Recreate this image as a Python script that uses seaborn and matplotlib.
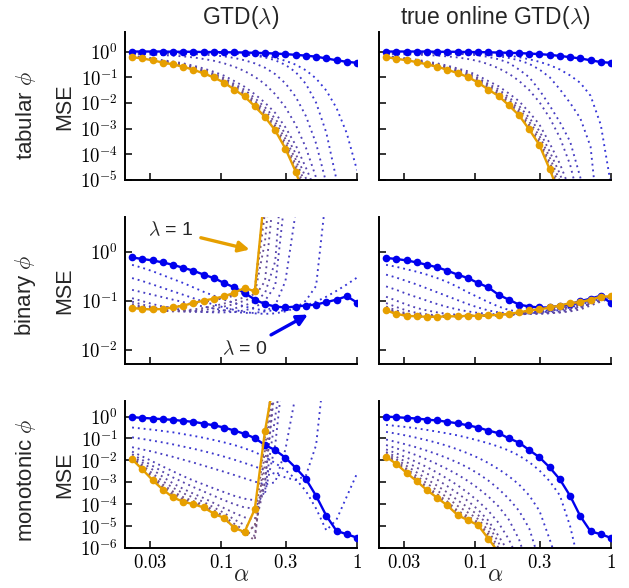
import numpy as np
import seaborn as sns
import matplotlib
matplotlib.use("Agg")
import matplotlib.pyplot as plt
from matplotlib.colors import to_rgb
from matplotlib.ticker import FixedLocator, FuncFormatter, NullLocator

# step sizes (x axis) and trace parameters, one curve per lambda
alpha = [0.0221, 0.02628, 0.03125, 0.03716, 0.04419, 0.05256, 0.0625, 0.07433,
         0.08839, 0.10511, 0.125, 0.14865, 0.17678, 0.21022, 0.25, 0.2973,
         0.35355, 0.42045, 0.5, 0.5946, 0.70711, 0.8409, 1.0]
lambdas = [0, 0.5, 0.75, 0.875, 0.9375, 0.96875, 0.984375, 0.9921875,
           0.99609375, 0.998046875, 0.9990234375, 1.0]

# log10(MSE), one list per lambda (first = lambda 0, last = lambda 1)
tabular_gtd = [
    [0, 0, 0, 0, -0.01, -0.01, -0.01, -0.02, -0.02, -0.03, -0.03, -0.04, -0.05, -0.06, -0.08, -0.1, -0.13, -0.16, -0.2, -0.27, -0.34, -0.4, -0.44],
    [-0.02, -0.02, -0.02, -0.02, -0.02, -0.03, -0.03, -0.04, -0.05, -0.06, -0.07, -0.09, -0.13, -0.18, -0.25, -0.36, -0.51, -0.73, -1.05, -1.52, -2.2, -3.18, -4.62],
    [-0.04, -0.04, -0.04, -0.04, -0.04, -0.04, -0.05, -0.05, -0.05, -0.06, -0.08, -0.11, -0.16, -0.23, -0.34, -0.52, -0.8, -1.26, -1.99, -3.16, -5.0, -7.5, -7.5],
    [-0.07, -0.07, -0.07, -0.08, -0.08, -0.08, -0.1, -0.12, -0.15, -0.19, -0.25, -0.34, -0.46, -0.63, -0.88, -1.24, -1.76, -2.51, -3.58, -5.13, -7.5, -7.5, -7.5],
    [-0.09, -0.1, -0.12, -0.14, -0.16, -0.19, -0.23, -0.29, -0.36, -0.46, -0.59, -0.76, -0.98, -1.27, -1.66, -2.17, -2.85, -3.74, -4.91, -6.46, -7.5, -7.5, -7.5],
    [-0.17, -0.21, -0.27, -0.34, -0.39, -0.46, -0.55, -0.66, -0.79, -0.94, -1.15, -1.37, -1.66, -1.99, -2.39, -2.95, -3.64, -4.52, -5.46, -6.55, -7.5, -7.5, -7.5],
    [-0.19, -0.23, -0.29, -0.37, -0.43, -0.5, -0.6, -0.72, -0.86, -1.03, -1.26, -1.49, -1.81, -2.17, -2.61, -3.21, -3.97, -4.93, -5.95, -7.14, -7.5, -7.5, -7.5],
    [-0.2, -0.24, -0.31, -0.39, -0.45, -0.53, -0.64, -0.77, -0.91, -1.09, -1.33, -1.58, -1.92, -2.3, -2.76, -3.4, -4.2, -5.22, -6.3, -7.5, -7.5, -7.5, -7.5],
    [-0.21, -0.25, -0.32, -0.4, -0.47, -0.55, -0.67, -0.8, -0.95, -1.14, -1.39, -1.65, -2.0, -2.4, -2.89, -3.55, -4.39, -5.45, -6.58, -7.5, -7.5, -7.5, -7.5],
    [-0.21, -0.26, -0.33, -0.42, -0.49, -0.57, -0.69, -0.82, -0.98, -1.17, -1.44, -1.7, -2.07, -2.47, -2.98, -3.67, -4.53, -5.63, -6.79, -7.5, -7.5, -7.5, -7.5],
    [-0.22, -0.27, -0.34, -0.43, -0.5, -0.58, -0.7, -0.84, -1.0, -1.2, -1.47, -1.73, -2.11, -2.52, -3.04, -3.74, -4.62, -5.74, -6.93, -7.5, -7.5, -7.5, -7.5],
    [-0.22, -0.27, -0.34, -0.43, -0.5, -0.59, -0.71, -0.85, -1.01, -1.21, -1.48, -1.75, -2.13, -2.55, -3.07, -3.78, -4.67, -5.8, -7.5, -7.5, -7.5, -7.5, -7.5],
]
tabular_togtd = [
    [0, 0, 0, 0, 0, -0.01, -0.01, -0.01, -0.02, -0.02, -0.03, -0.04, -0.05, -0.06, -0.08, -0.1, -0.13, -0.17, -0.22, -0.27, -0.34, -0.41, -0.44],
    [-0.02, -0.02, -0.02, -0.03, -0.03, -0.03, -0.04, -0.04, -0.05, -0.07, -0.09, -0.12, -0.16, -0.22, -0.3, -0.4, -0.53, -0.7, -0.93, -1.22, -1.72, -2.85, -5.2],
    [-0.04, -0.04, -0.05, -0.05, -0.05, -0.06, -0.06, -0.07, -0.08, -0.1, -0.13, -0.18, -0.25, -0.34, -0.48, -0.7, -1.0, -1.47, -2.0, -2.6, -3.7, -7.5, -7.5],
    [-0.06, -0.06, -0.06, -0.07, -0.07, -0.07, -0.08, -0.09, -0.11, -0.15, -0.21, -0.3, -0.44, -0.7, -1.0, -1.5, -2.1, -2.75, -3.5, -4.9, -7.5, -7.5, -7.5],
    [-0.09, -0.1, -0.11, -0.12, -0.14, -0.16, -0.19, -0.23, -0.29, -0.37, -0.49, -0.65, -0.86, -1.14, -1.5, -1.97, -2.58, -3.35, -4.4, -6.0, -7.5, -7.5, -7.5],
    [-0.17, -0.22, -0.27, -0.32, -0.39, -0.46, -0.55, -0.66, -0.77, -0.94, -1.15, -1.35, -1.63, -1.93, -2.36, -2.84, -3.57, -4.37, -5.38, -6.55, -7.5, -7.5, -7.5],
    [-0.19, -0.24, -0.29, -0.35, -0.43, -0.5, -0.6, -0.71, -0.84, -1.03, -1.26, -1.47, -1.78, -2.11, -2.58, -3.09, -3.89, -4.76, -5.87, -7.14, -7.5, -7.5, -7.5],
    [-0.2, -0.25, -0.31, -0.37, -0.45, -0.53, -0.64, -0.76, -0.89, -1.09, -1.33, -1.56, -1.88, -2.23, -2.73, -3.28, -4.12, -5.04, -6.21, -7.5, -7.5, -7.5, -7.5],
    [-0.21, -0.26, -0.32, -0.39, -0.47, -0.55, -0.67, -0.79, -0.93, -1.14, -1.39, -1.63, -1.96, -2.33, -2.85, -3.42, -4.31, -5.26, -6.49, -7.5, -7.5, -7.5, -7.5],
    [-0.21, -0.27, -0.33, -0.4, -0.49, -0.57, -0.69, -0.81, -0.96, -1.17, -1.44, -1.68, -2.03, -2.41, -2.94, -3.53, -4.44, -5.43, -6.69, -7.5, -7.5, -7.5, -7.5],
    [-0.22, -0.28, -0.34, -0.41, -0.5, -0.58, -0.7, -0.83, -0.98, -1.2, -1.47, -1.71, -2.07, -2.46, -3.0, -3.6, -4.53, -5.54, -6.83, -7.5, -7.5, -7.5, -7.5],
    [-0.22, -0.28, -0.34, -0.41, -0.5, -0.59, -0.71, -0.84, -0.99, -1.21, -1.48, -1.73, -2.09, -2.48, -3.03, -3.64, -4.58, -5.6, -7.5, -7.5, -7.5, -7.5, -7.5],
]
binary_gtd = [
    [-0.12, -0.15, -0.18, -0.22, -0.27, -0.33, -0.39, -0.47, -0.54, -0.64, -0.73, -0.84, -0.98, -1.07, -1.12, -1.14, -1.12, -1.1, -1.08, -1.03, -0.98, -0.91, -1.04],
    [-0.27, -0.33, -0.4, -0.48, -0.56, -0.64, -0.73, -0.82, -0.9, -0.98, -1.05, -1.12, -1.17, -1.2, -1.21, -1.2, -1.16, -1.1, -1.02, -0.92, -0.8, -0.67, -0.53],
    [-0.54, -0.6, -0.67, -0.74, -0.81, -0.88, -0.95, -1.02, -1.08, -1.14, -1.19, -1.23, -1.26, -1.27, -1.26, -1.22, -1.15, -1.0, -0.7, 1.2, 3, 3, 3],
    [-0.78, -0.83, -0.88, -0.93, -0.98, -1.03, -1.08, -1.12, -1.16, -1.2, -1.23, -1.25, -1.25, -1.22, -1.1, -0.6, 0.8, 3, 3, 3, 3, 3, 3],
    [-0.95, -1.01, -1.07, -1.12, -1.16, -1.19, -1.21, -1.23, -1.24, -1.24, -1.23, -1.2, -1.14, -1.0, -0.7, 1.2, 3, 3, 3, 3, 3, 3, 3],
    [-1.02, -1.08, -1.13, -1.17, -1.2, -1.22, -1.23, -1.23, -1.22, -1.2, -1.16, -1.1, -1.02, -0.85, -0.2, 2.5, 3, 3, 3, 3, 3, 3, 3],
    [-1.07, -1.12, -1.17, -1.2, -1.22, -1.22, -1.21, -1.19, -1.16, -1.12, -1.07, -1.0, -0.92, -0.6, 1.5, 3, 3, 3, 3, 3, 3, 3, 3],
    [-1.1, -1.15, -1.19, -1.21, -1.21, -1.2, -1.18, -1.15, -1.11, -1.06, -1.0, -0.93, -0.87, 0.2, 2.5, 3, 3, 3, 3, 3, 3, 3, 3],
    [-1.12, -1.14, -1.15, -1.15, -1.13, -1.1, -1.07, -1.03, -0.99, -0.95, -0.9, -0.84, -0.82, 0.8, 3, 3, 3, 3, 3, 3, 3, 3, 3],
    [-1.14, -1.15, -1.16, -1.15, -1.13, -1.1, -1.06, -1.02, -0.98, -0.93, -0.87, -0.8, -0.8, 1.1, 3, 3, 3, 3, 3, 3, 3, 3, 3],
    [-1.15, -1.16, -1.17, -1.16, -1.14, -1.1, -1.06, -1.01, -0.97, -0.92, -0.86, -0.77, -0.8, 1.2, 3, 3, 3, 3, 3, 3, 3, 3, 3],
    [-1.15, -1.17, -1.18, -1.17, -1.14, -1.1, -1.05, -1.0, -0.96, -0.91, -0.84, -0.74, -0.81, 1.28, 3, 3, 3, 3, 3, 3, 3, 3, 3],
]
binary_togtd = [
    [-0.13, -0.15, -0.18, -0.22, -0.27, -0.32, -0.39, -0.47, -0.54, -0.64, -0.73, -0.88, -0.98, -1.08, -1.12, -1.14, -1.14, -1.1, -1.07, -1.01, -0.96, -0.9, -1.05],
    [-0.27, -0.31, -0.36, -0.41, -0.47, -0.54, -0.62, -0.72, -0.83, -0.93, -1.03, -1.12, -1.19, -1.23, -1.24, -1.22, -1.19, -1.15, -1.1, -1.05, -1.0, -0.93, -0.92],
    [-0.47, -0.53, -0.6, -0.67, -0.75, -0.83, -0.91, -0.99, -1.07, -1.14, -1.2, -1.24, -1.26, -1.27, -1.26, -1.24, -1.21, -1.17, -1.12, -1.07, -1.01, -0.95, -0.93],
    [-0.71, -0.78, -0.86, -0.93, -1.0, -1.07, -1.13, -1.18, -1.22, -1.25, -1.27, -1.28, -1.28, -1.27, -1.26, -1.24, -1.22, -1.19, -1.14, -1.08, -1.02, -0.96, -0.93],
    [-0.92, -1.0, -1.08, -1.15, -1.2, -1.24, -1.27, -1.29, -1.3, -1.3, -1.3, -1.29, -1.28, -1.27, -1.26, -1.25, -1.24, -1.22, -1.18, -1.13, -1.06, -0.99, -0.94],
    [-1.05, -1.13, -1.2, -1.25, -1.28, -1.3, -1.31, -1.31, -1.31, -1.31, -1.3, -1.3, -1.29, -1.28, -1.27, -1.27, -1.26, -1.24, -1.2, -1.15, -1.07, -1.0, -0.94],
    [-1.12, -1.2, -1.26, -1.29, -1.31, -1.32, -1.32, -1.32, -1.32, -1.31, -1.31, -1.3, -1.29, -1.28, -1.27, -1.26, -1.25, -1.24, -1.22, -1.18, -1.1, -1.02, -0.95],
    [-1.15, -1.23, -1.28, -1.3, -1.32, -1.33, -1.33, -1.32, -1.32, -1.31, -1.31, -1.3, -1.28, -1.26, -1.24, -1.22, -1.2, -1.18, -1.16, -1.12, -1.06, -0.98, -0.94],
    [-1.17, -1.25, -1.29, -1.31, -1.32, -1.33, -1.33, -1.32, -1.32, -1.31, -1.31, -1.3, -1.28, -1.26, -1.23, -1.2, -1.18, -1.14, -1.12, -1.09, -1.03, -0.96, -0.93],
    [-1.18, -1.26, -1.3, -1.32, -1.33, -1.33, -1.33, -1.32, -1.32, -1.31, -1.3, -1.29, -1.27, -1.25, -1.21, -1.19, -1.16, -1.12, -1.08, -1.06, -1.0, -0.94, -0.92],
    [-1.19, -1.27, -1.31, -1.32, -1.33, -1.33, -1.32, -1.32, -1.31, -1.31, -1.3, -1.29, -1.27, -1.24, -1.2, -1.18, -1.15, -1.11, -1.06, -1.04, -0.99, -0.93, -0.91],
    [-1.2, -1.27, -1.31, -1.32, -1.33, -1.33, -1.32, -1.32, -1.31, -1.31, -1.3, -1.29, -1.27, -1.24, -1.2, -1.18, -1.14, -1.1, -1.05, -1.03, -0.98, -0.92, -0.91],
]
monotonic_gtd = [
    [-0.03, -0.06, -0.09, -0.12, -0.15, -0.2, -0.24, -0.32, -0.4, -0.5, -0.64, -0.79, -0.98, -1.3, -1.53, -1.88, -2.34, -2.85, -3.62, -4.53, -5.22, -5.37, -5.53],
    [-0.5, -0.55, -0.6, -0.66, -0.72, -0.8, -0.88, -0.97, -1.07, -1.18, -1.3, -1.45, -1.62, -1.85, -2.12, -2.45, -2.85, -3.4, -4.2, -5.2, -4.7, -3.65, -2.6],
    [-0.95, -1.02, -1.1, -1.18, -1.27, -1.37, -1.47, -1.58, -1.7, -1.83, -1.97, -2.12, -2.28, -2.45, -2.62, -2.78, -2.9, -2.7, -1.3, 3, 3, 3, 3],
    [-1.4, -1.5, -1.6, -1.72, -1.84, -1.97, -2.1, -2.24, -2.38, -2.52, -2.67, -2.82, -2.97, -3.1, -3.0, -1.5, 1.0, 3, 3, 3, 3, 3, 3],
    [-1.6, -1.82, -2.05, -2.28, -2.5, -2.72, -2.92, -3.1, -3.28, -3.45, -3.62, -3.75, -3.82, -3.5, -1.3, 3, 3, 3, 3, 3, 3, 3, 3],
    [-1.72, -1.98, -2.25, -2.52, -2.78, -3.0, -3.22, -3.42, -3.62, -3.82, -4.0, -4.15, -4.2, -3.4, 0.0, 3, 3, 3, 3, 3, 3, 3, 3],
    [-1.8, -2.1, -2.42, -2.75, -3.05, -3.3, -3.52, -3.72, -3.95, -4.18, -4.4, -4.6, -4.7, -3.0, 1.5, 3, 3, 3, 3, 3, 3, 3, 3],
    [-1.84, -2.22, -2.6, -2.95, -3.25, -3.5, -3.7, -3.9, -4.15, -4.4, -4.7, -4.95, -5.1, -3.0, 1.8, 3, 3, 3, 3, 3, 3, 3, 3],
    [-1.86, -2.3, -2.72, -3.1, -3.42, -3.68, -3.86, -4.02, -4.28, -4.55, -4.9, -5.2, -5.45, -2.2, 2.5, 3, 3, 3, 3, 3, 3, 3, 3],
    [-1.88, -2.35, -2.8, -3.2, -3.52, -3.76, -3.92, -4.08, -4.38, -4.62, -5.05, -5.3, -5.65, -1.5, 3, 3, 3, 3, 3, 3, 3, 3, 3],
    [-1.89, -2.38, -2.85, -3.28, -3.6, -3.82, -3.96, -4.12, -4.42, -4.64, -5.1, -5.32, -5.0, -0.9, 2.5, 3, 3, 3, 3, 3, 3, 3, 3],
    [-1.95, -2.41, -2.9, -3.33, -3.69, -3.89, -4.0, -4.15, -4.43, -4.63, -5.08, -5.27, -4.23, -0.66, 2.0, 3, 3, 3, 3, 3, 3, 3, 3],
]
monotonic_togtd = [
    [0.0, -0.03, -0.06, -0.09, -0.14, -0.18, -0.24, -0.31, -0.4, -0.5, -0.64, -0.76, -0.99, -1.19, -1.53, -1.86, -2.32, -2.87, -3.62, -4.55, -5.24, -5.37, -5.54],
    [-0.38, -0.43, -0.48, -0.54, -0.61, -0.69, -0.77, -0.86, -0.97, -1.09, -1.22, -1.37, -1.55, -1.78, -2.08, -2.46, -2.95, -3.6, -5.0, -7.0, -7.5, -7.5, -7.5],
    [-0.7, -0.78, -0.87, -0.97, -1.08, -1.2, -1.34, -1.5, -1.68, -1.88, -2.12, -2.4, -2.72, -3.1, -3.6, -4.3, -5.6, -7.0, -7.5, -7.5, -7.5, -7.5, -7.5],
    [-1.05, -1.16, -1.28, -1.41, -1.56, -1.72, -1.9, -2.1, -2.33, -2.6, -2.92, -3.3, -3.75, -4.3, -5.1, -6.6, -7.5, -7.5, -7.5, -7.5, -7.5, -7.5, -7.5],
    [-1.3, -1.45, -1.6, -1.77, -1.96, -2.17, -2.4, -2.65, -2.94, -3.27, -3.65, -4.1, -4.7, -5.6, -7.0, -7.5, -7.5, -7.5, -7.5, -7.5, -7.5, -7.5, -7.5],
    [-1.5, -1.68, -1.87, -2.08, -2.31, -2.56, -2.84, -3.14, -3.48, -3.86, -4.3, -4.85, -5.6, -6.6, -7.5, -7.5, -7.5, -7.5, -7.5, -7.5, -7.5, -7.5, -7.5],
    [-1.62, -1.84, -2.08, -2.33, -2.6, -2.88, -3.18, -3.5, -3.85, -4.25, -4.75, -5.45, -6.2, -7.5, -7.5, -7.5, -7.5, -7.5, -7.5, -7.5, -7.5, -7.5, -7.5],
    [-1.7, -1.95, -2.25, -2.55, -2.86, -3.16, -3.47, -3.82, -4.15, -4.5, -4.95, -5.75, -6.8, -7.5, -7.5, -7.5, -7.5, -7.5, -7.5, -7.5, -7.5, -7.5, -7.5],
    [-1.76, -2.04, -2.38, -2.72, -3.05, -3.38, -3.7, -4.08, -4.38, -4.68, -5.2, -6.0, -7.0, -7.5, -7.5, -7.5, -7.5, -7.5, -7.5, -7.5, -7.5, -7.5, -7.5],
    [-1.8, -2.1, -2.47, -2.83, -3.2, -3.54, -3.88, -4.3, -4.55, -4.82, -5.35, -6.2, -7.5, -7.5, -7.5, -7.5, -7.5, -7.5, -7.5, -7.5, -7.5, -7.5, -7.5],
    [-1.82, -2.13, -2.52, -2.9, -3.28, -3.63, -3.97, -4.4, -4.64, -4.89, -5.46, -6.3, -7.5, -7.5, -7.5, -7.5, -7.5, -7.5, -7.5, -7.5, -7.5, -7.5, -7.5],
    [-1.84, -2.16, -2.57, -2.95, -3.36, -3.71, -4.06, -4.5, -4.73, -4.96, -5.57, -6.2, -7.5, -7.5, -7.5, -7.5, -7.5, -7.5, -7.5, -7.5, -7.5, -7.5, -7.5],
]

col_titles = ["GTD($\\lambda$)", "true online GTD($\\lambda$)"]
row_titles = ["tabular $\\phi$", "binary $\\phi$", "monotonic $\\phi$"]
x_ticks = [0.03, 0.1, 0.3, 1]
x_ticklabels = ["0.03", "0.1", "0.3", "1"]
row_decades = [[-5, -4, -3, -2, -1, 0], [-2, -1, 0], [-6, -5, -4, -3, -2, -1, 0]]
row_ylims = [(1e-5, 5.5), (5.1e-3, 5.2), (1e-6, 5.4)]

panels = [[tabular_gtd, tabular_togtd],
          [binary_gtd, binary_togtd],
          [monotonic_gtd, monotonic_togtd]]
for row in panels:
    for curves in row:
        assert len(curves) == len(lambdas)
        for c in curves:
            assert len(c) == len(alpha), c

sns.set_style("ticks", {"xtick.direction": "in", "ytick.direction": "in"})
plt.rcParams["font.family"] = ["Liberation Sans", "DejaVu Sans"]
plt.rcParams["mathtext.fontset"] = "cm"

BLUE = "#0000ee"
ORANGE = "#e69f00"
b0 = np.array(to_rgb("#3434d8"))
b1 = np.array(to_rgb("#845c74"))
n_mid = len(lambdas) - 2
dot_colors = [tuple(b0 + (b1 - b0) * i / (n_mid - 1)) for i in range(n_mid)]

fig, axes = plt.subplots(3, 2, figsize=(6.29, 5.88), dpi=100)
lefts = [125 / 629, 379 / 629]
bottoms = [1 - 180 / 588, 1 - 364 / 588, 1 - 548 / 588]
width, height = 232 / 629, 147.5 / 588

for r in range(3):
    for c in range(2):
        ax = axes[r][c]
        ax.set_position([lefts[c], bottoms[r], width, height])
        ax.set_xscale("log")
        ax.set_yscale("log")
        curves = panels[r][c]
        for j in range(1, len(lambdas) - 1):
            sns.lineplot(x=alpha, y=10.0 ** np.array(curves[j]), ax=ax,
                         color=dot_colors[j - 1], linestyle=(0, (1, 2.1)),
                         linewidth=1.35, estimator=None, sort=False)
        sns.lineplot(x=alpha, y=10.0 ** np.array(curves[0]), ax=ax, color=BLUE,
                     linewidth=1.7, marker="o", markersize=5.5, markeredgewidth=0,
                     markeredgecolor=BLUE, estimator=None, sort=False)
        sns.lineplot(x=alpha, y=10.0 ** np.array(curves[-1]), ax=ax, color=ORANGE,
                     linewidth=1.7, marker="o", markersize=5.5, markeredgewidth=0,
                     markeredgecolor=ORANGE, estimator=None, sort=False)

        ax.set_xlim(0.0196, 1.0)
        ax.set_ylim(*row_ylims[r])
        ax.xaxis.set_major_locator(FixedLocator(x_ticks))
        ax.xaxis.set_minor_locator(NullLocator())
        ax.yaxis.set_major_locator(FixedLocator([10.0 ** d for d in row_decades[r]]))
        ax.yaxis.set_minor_locator(NullLocator())
        ax.yaxis.set_major_formatter(
            FuncFormatter(lambda v, _: "$10^{%d}$" % int(round(np.log10(v)))))
        ax.xaxis.set_major_formatter(
            FuncFormatter(lambda v, _: "$%s$" % x_ticklabels[x_ticks.index(round(v, 2))]))
        ax.tick_params(direction="in", length=5, width=1.1, labelsize=13.5, pad=5,
                       colors="black")
        ax.tick_params(axis="x", pad=4)
        ax.tick_params(labelbottom=(r == 2), labelleft=(c == 0))
        for s in ["left", "bottom"]:
            ax.spines[s].set_linewidth(1.4)
            ax.spines[s].set_color("black")
        sns.despine(ax=ax)
        ax.set_xlabel("")
        ax.set_ylabel("")
        if c == 0:
            ax.set_ylabel("MSE", fontsize=15.5)
            ax.yaxis.set_label_coords(-0.215, 0.5)
        if r == 0:
            ax.set_title(col_titles[c], fontsize=16.5, pad=6)
        if r == 2:
            ax.set_xlabel("$\\alpha$", fontsize=17, labelpad=-5)

row_label_y = [1 - 116 / 588, 1 - 295 / 588, 1 - 480 / 588]
for r in range(3):
    fig.text(0.041, row_label_y[r], row_titles[r], rotation=90, ha="center",
             va="center", fontsize=16)

ax = axes[1][0]
ax.annotate("$\\lambda$ = 1", xy=(0.162, 1.1), xytext=(0.0426, 2.7), fontsize=14,
            ha="center", va="center",
            arrowprops=dict(arrowstyle="-|>", color=ORANGE, lw=2.4,
                            mutation_scale=16, shrinkA=3, shrinkB=0))
ax.annotate("$\\lambda$ = 0", xy=(0.435, 0.052), xytext=(0.149, 0.0101), fontsize=14,
            ha="center", va="center",
            arrowprops=dict(arrowstyle="-|>", color=BLUE, lw=2.4,
                            mutation_scale=16, shrinkA=3, shrinkB=0))

fig.savefig("out.png", dpi=100)
